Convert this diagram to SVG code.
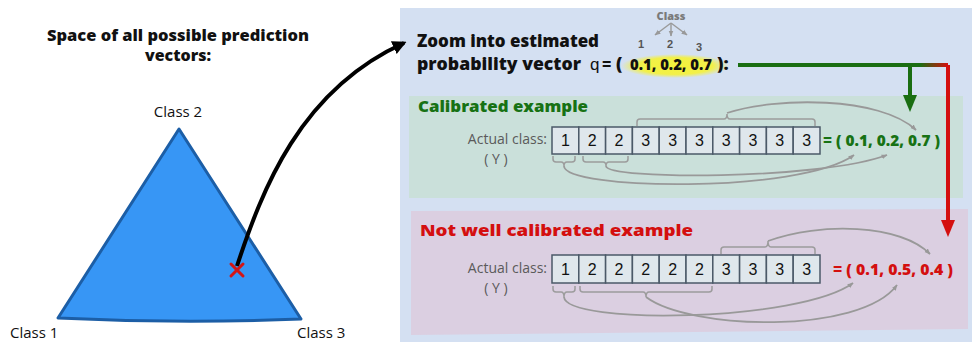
<svg xmlns="http://www.w3.org/2000/svg" width="972" height="346" viewBox="0 0 972 346">
<style>
.hand{font-family:"Open Sans","Inter","DejaVu Sans",sans-serif;font-weight:800}
.reg{font-family:"Liberation Sans","DejaVu Sans",sans-serif}
.lbl{font-family:"Open Sans","Noto Sans",sans-serif;font-size:15px;fill:#111}
.cell{fill:#dfe7ec;stroke:#4b5968;stroke-width:1.5}
.dig{font-family:"Liberation Sans",sans-serif;font-size:16px;fill:#111;text-anchor:middle}
.act{font-family:"Open Sans","Liberation Sans",sans-serif;font-size:14px;fill:#5a5a5a}
.brace{fill:none;stroke:#9c9c9c;stroke-width:1.5}
.conn{fill:none;stroke:#999;stroke-width:1.8}
</style>
<defs>
<marker id="ga" viewBox="0 0 10 10" refX="9" refY="5" markerWidth="6" markerHeight="6" orient="auto" markerUnits="userSpaceOnUse">
<path d="M0,1 L10,5 L0,9 Z" fill="#999"/>
</marker>
<marker id="ba" viewBox="0 0 10 10" refX="8" refY="5" markerWidth="14" markerHeight="14" orient="auto" markerUnits="userSpaceOnUse">
<path d="M0,0 L10,5 L0,10 Z" fill="#000"/>
</marker>
<radialGradient id="hl" cx="0.5" cy="0.5" r="0.5">
<stop offset="0" stop-color="#f4f33a"/>
<stop offset="0.7" stop-color="#f2f04a"/>
<stop offset="1" stop-color="#f2f04a" stop-opacity="0"/>
</radialGradient>
<linearGradient id="gr" x1="920" y1="0" x2="948" y2="0" gradientUnits="userSpaceOnUse">
<stop offset="0" stop-color="#1a6e12"/>
<stop offset="1" stop-color="#d40f0f"/>
</linearGradient>
</defs>

<rect width="972" height="346" fill="#fff"/>

<g id="simplex">
<text class="hand" x="178" y="41" font-size="16" text-anchor="middle" fill="#111" textLength="262" lengthAdjust="spacingAndGlyphs">Space of all possible prediction</text>
<text class="hand" x="178" y="61" font-size="16" text-anchor="middle" fill="#111" textLength="66" lengthAdjust="spacingAndGlyphs">vectors:</text>
<path d="M179,129 L301,319 Q180,324 58,318 Z" fill="#3796f5" stroke="#1c5ea6" stroke-width="3" stroke-linejoin="round"/>
<text class="lbl" x="178" y="117" text-anchor="middle">Class 2</text>
<text class="lbl" x="10" y="338">Class 1</text>
<text class="lbl" x="297" y="338">Class 3</text>
</g>

<g id="panel">
<rect x="400" y="8" width="572" height="334" fill="#d4e0f2"/>
</g>

<g id="header">
<text class="hand" x="417" y="47" font-size="17" fill="#111" textLength="182" lengthAdjust="spacingAndGlyphs">Zoom into estimated</text>
<text class="hand" x="417" y="70" font-size="17" fill="#111" textLength="164" lengthAdjust="spacingAndGlyphs">probability vector</text>
<ellipse cx="675" cy="66" rx="54" ry="12" fill="url(#hl)"/>
<text class="reg" x="590" y="70" font-size="17" fill="#111">q</text>
<text class="hand" x="602" y="70" font-size="16" fill="#111">=</text>
<text class="hand" x="616" y="70" font-size="18" fill="#111">(</text>
<text class="hand" x="630" y="70" font-size="16" fill="#111" textLength="82" lengthAdjust="spacingAndGlyphs">0.1, 0.2, 0.7</text>
<text class="hand" x="717" y="70" font-size="18" fill="#111">):</text>
<text class="hand" x="671" y="20" font-size="11" fill="#7a7a7a" text-anchor="middle">Class</text>
<g stroke="#999" stroke-width="1.4" fill="none">
<path d="M671,23 L655,35" marker-end="url(#ga)"/>
<path d="M671,23 L671,36" marker-end="url(#ga)"/>
<path d="M671,23 L687,35" marker-end="url(#ga)"/>
</g>
<text class="reg" x="641" y="48" font-size="11" font-weight="bold" fill="#555" text-anchor="middle">1</text>
<text class="reg" x="670" y="48" font-size="11" font-weight="bold" fill="#555" text-anchor="middle">2</text>
<text class="reg" x="699" y="51" font-size="11" font-weight="bold" fill="#555" text-anchor="middle">3</text>
</g>

<g id="calibrated">
<rect x="409" y="96" width="554" height="102" fill="#cae0da"/>
<text class="hand" x="418" y="112" font-size="16" fill="#177214" textLength="170" lengthAdjust="spacingAndGlyphs">Calibrated example</text>
<text class="act" x="547" y="144" text-anchor="end">Actual class:</text>
<text class="act" x="496" y="164" text-anchor="middle">( Y )</text>
<g>
<rect class="cell" x="552" y="127" width="26.8" height="27"/>
<rect class="cell" x="578.8" y="127" width="26.8" height="27"/>
<rect class="cell" x="605.6" y="127" width="26.8" height="27"/>
<rect class="cell" x="632.4" y="127" width="26.8" height="27"/>
<rect class="cell" x="659.2" y="127" width="26.8" height="27"/>
<rect class="cell" x="686" y="127" width="26.8" height="27"/>
<rect class="cell" x="712.8" y="127" width="26.8" height="27"/>
<rect class="cell" x="739.6" y="127" width="26.8" height="27"/>
<rect class="cell" x="766.4" y="127" width="26.8" height="27"/>
<rect class="cell" x="793.2" y="127" width="26.8" height="27"/>
<text class="dig" x="565.4" y="146">1</text>
<text class="dig" x="592.2" y="146">2</text>
<text class="dig" x="619" y="146">2</text>
<text class="dig" x="645.8" y="146">3</text>
<text class="dig" x="672.6" y="146">3</text>
<text class="dig" x="699.4" y="146">3</text>
<text class="dig" x="726.2" y="146">3</text>
<text class="dig" x="753" y="146">3</text>
<text class="dig" x="779.8" y="146">3</text>
<text class="dig" x="806.6" y="146">3</text>
</g>
<text class="hand" x="823" y="146" font-size="15" fill="#177214" textLength="117" lengthAdjust="spacingAndGlyphs">= ( 0.1, 0.2, 0.7 )</text>
</g>

<g id="notcalibrated">
<path d="M411,211 L968,209 L968,329 L411,335 Z" fill="#dbcfe1"/>
<text class="hand" x="420" y="236" font-size="16" fill="#d40f0f" textLength="273" lengthAdjust="spacingAndGlyphs">Not well calibrated example</text>
<text class="act" x="547" y="273" text-anchor="end">Actual class:</text>
<text class="act" x="496" y="293" text-anchor="middle">( Y )</text>
<g>
<rect class="cell" x="552" y="255" width="26.8" height="28"/>
<rect class="cell" x="578.8" y="255" width="26.8" height="28"/>
<rect class="cell" x="605.6" y="255" width="26.8" height="28"/>
<rect class="cell" x="632.4" y="255" width="26.8" height="28"/>
<rect class="cell" x="659.2" y="255" width="26.8" height="28"/>
<rect class="cell" x="686" y="255" width="26.8" height="28"/>
<rect class="cell" x="712.8" y="255" width="26.8" height="28"/>
<rect class="cell" x="739.6" y="255" width="26.8" height="28"/>
<rect class="cell" x="766.4" y="255" width="26.8" height="28"/>
<rect class="cell" x="793.2" y="255" width="26.8" height="28"/>
<text class="dig" x="565.4" y="275">1</text>
<text class="dig" x="592.2" y="275">2</text>
<text class="dig" x="619" y="275">2</text>
<text class="dig" x="645.8" y="275">2</text>
<text class="dig" x="672.6" y="275">2</text>
<text class="dig" x="699.4" y="275">2</text>
<text class="dig" x="726.2" y="275">3</text>
<text class="dig" x="753" y="275">3</text>
<text class="dig" x="779.8" y="275">3</text>
<text class="dig" x="806.6" y="275">3</text>
</g>
<text class="hand" x="833" y="275" font-size="15" fill="#d40f0f" textLength="120" lengthAdjust="spacingAndGlyphs">= ( 0.1, 0.5, 0.4 )</text>
</g>

<g id="connectors">
<path d="M237,266 C262,190 300,90 404,43" fill="none" stroke="#000" stroke-width="4" marker-end="url(#ba)"/>
<g stroke="#d41515" stroke-width="3" stroke-linecap="round">
<line x1="231" y1="264" x2="243" y2="276"/>
<line x1="243" y1="264" x2="231" y2="276"/>
</g>
<path d="M738,65 H925" stroke="#1a6e12" stroke-width="4" fill="none"/>
<path d="M920,65 H948" stroke="url(#gr)" stroke-width="4" fill="none"/>
<path d="M910,65 V97" stroke="#1a6e12" stroke-width="4" fill="none"/>
<path d="M903,95 L917,95 L910,112 Z" fill="#1a6e12"/>
<path d="M948,65 V222" stroke="#d40f0f" stroke-width="4" fill="none"/>
<path d="M941,220 L955,220 L948,237 Z" fill="#d40f0f"/>

<path class="brace" d="M637,126 v-4 q0,-3 3,-3 H724 q3,0 3,-5 q0,5 3,5 H812 q3,0 3,3 v4"/>
<path class="conn" d="M727,113 C775,97 880,96 916,130" marker-end="url(#ga)"/>
<path class="brace" d="M553,156 v3 q0,3 3,3 H561 q3,0 3,4 q0,-4 3,-4 H572 q3,0 3,-3 v-3"/>
<path class="brace" d="M583,156 v3 q0,3 3,3 H603 q3,0 3,4 q0,-4 3,-4 H625 q3,0 3,-3 v-3"/>
<path class="conn" d="M564,166 C564,190 800,194 854,155" marker-end="url(#ga)"/>
<path class="conn" d="M606,166 C606,180 820,180 887,155" marker-end="url(#ga)"/>

<path class="brace" d="M721,254 v-4 q0,-3 3,-3 H765 q3,0 3,-6 q0,6 3,6 H812 q3,0 3,3 v4"/>
<path class="conn" d="M768,241 C820,222 900,224 930,254" marker-end="url(#ga)"/>
<path class="brace" d="M553,286 v3 q0,3 3,3 H561 q3,0 3,5 q0,-5 3,-5 H572 q3,0 3,-3 v-3"/>
<path class="brace" d="M580,286 v3 q0,3 3,3 H643 q3,0 3,5 q0,-5 3,-5 H709 q3,0 3,-3 v-3"/>
<path class="conn" d="M564,297 C566,325 800,322 853,283" marker-end="url(#ga)"/>
<path class="conn" d="M646,297 C690,330 860,335 897,285" marker-end="url(#ga)"/>
</g>
</svg>
